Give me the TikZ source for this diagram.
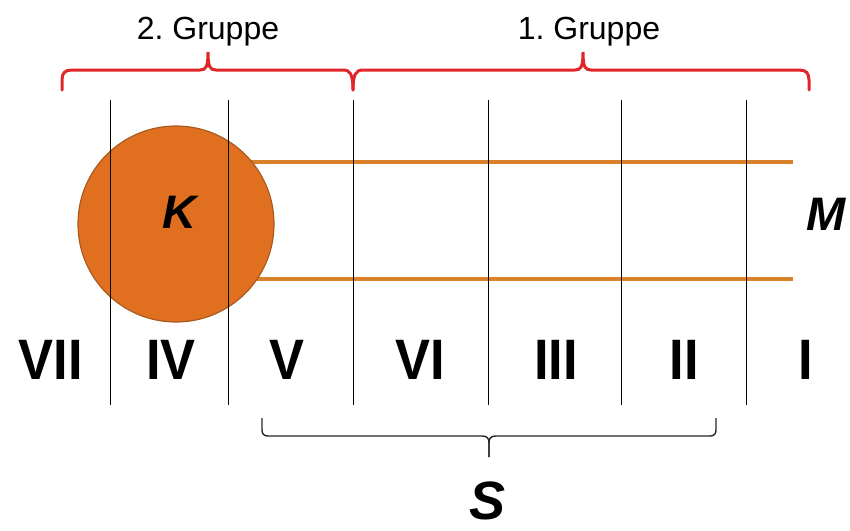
\documentclass[tikz,border=0pt]{standalone}
\usepackage{fontspec}
\setmainfont{Liberation Sans}
\frenchspacing
\definecolor{bred}{HTML}{E0262B}
\definecolor{korange}{HTML}{E07020}
\definecolor{kedge}{HTML}{A85A1E}
\definecolor{lorange}{HTML}{D9822B}
\begin{document}
\begin{tikzpicture}[x=1pt,y=-1pt,
  numeral/.style={font=\fontsize{57}{57}\selectfont\bfseries, inner sep=0pt, anchor=center, xscale=0.92},
  grouplabel/.style={font=\fontsize{32}{32}\selectfont, inner sep=0pt},
  biglabel/.style={font=\fontsize{54}{54}\selectfont\bfseries\itshape, inner sep=0pt},
  midlabel/.style={font=\fontsize{47}{47}\selectfont\bfseries\itshape, inner sep=0pt},
  divider/.style={draw=black, line width=0.85pt},
  redbrace/.style={draw=bred, line width=3pt, line cap=round},
  blackbrace/.style={draw=black!85, line width=1.4pt},
  band/.style={draw=lorange, line width=3.5pt}]
\useasboundingbox (0,0) rectangle (850,530);
% orange band
\draw[band] (230,162) -- (793,162);
\draw[band] (230,279) -- (793,279);
% circle
\node[circle, minimum size=196pt, fill=korange, draw=kedge, line width=1.2pt, inner sep=0pt] (K) at (176,224) {};
% dividers
\foreach \x in {110,228,353,488,621,746} \draw[divider] (\x,100) -- (\x,405);
\node[midlabel] (Klab) at (179,212) {K};
\node[midlabel] (M) at (826,214) {M};
% numerals
\node[numeral] (n7) at (51,360) {VII};
\node[numeral] (n4) at (171,360) {IV};
\node[numeral] (n5) at (287,360) {V};
\node[numeral] (n6) at (420,360) {VI};
\node[numeral] (n3) at (556,360) {III};
\node[numeral] (n2) at (684,360) {II};
\node[numeral] (n1) at (806,360) {I};
% group labels
\node[grouplabel] (g2) at (208,32) {2. Gruppe};
\node[grouplabel] (g1) at (589,32) {1. Gruppe};
% red braces
\draw[redbrace] (62,90) -- (62,80) .. controls (62,73) and (65,70) .. (72,70) -- (200,70)
  .. controls (206,70) and (208,67) .. (208,52) .. controls (208,67) and (210,70) .. (216,70)
  -- (343,70) .. controls (350,70) and (353,74) .. (353,90);
\draw[redbrace] (353,90) .. controls (353,74) and (356,70) .. (363,70) -- (575,70)
  .. controls (581,70) and (583,67) .. (583,52) .. controls (583,67) and (585,70) .. (591,70)
  -- (799,70) .. controls (806,70) and (809,73) .. (809,80) -- (809,90);
% S brace
\draw[blackbrace] (262,418) -- (262,430) .. controls (262,434) and (264,436) .. (268,436)
  -- (482,436) .. controls (487,436) and (489,438) .. (489,443) -- (489,457);
\draw[blackbrace] (489,457) -- (489,443) .. controls (489,438) and (491,436) .. (496,436)
  -- (710,436) .. controls (714,436) and (716,434) .. (716,430) -- (716,418);
\node[biglabel] (S) at (488,501) {S};
\end{tikzpicture}
\end{document}
